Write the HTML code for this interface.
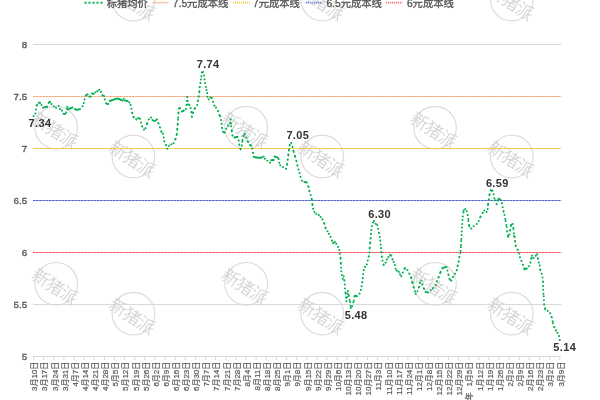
<!DOCTYPE html><html><head><meta charset="utf-8"><style>
html,body{margin:0;padding:0;background:#fff;width:600px;height:400px;overflow:hidden}
svg{display:block}
.t{font-family:"Liberation Sans","Noto Sans CJK SC",sans-serif;fill:#595959;stroke:#595959;stroke-width:0.35px}
.c{font-family:"Liberation Sans","Noto Sans CJK SC",sans-serif;fill:#595959;stroke:#595959;stroke-width:0.2px}
.w{font-family:"Noto Sans CJK SC",sans-serif;font-weight:350;fill:#d4d4d4}
.d{font-family:"Liberation Sans","Noto Sans CJK SC",sans-serif;font-weight:bold;fill:#333}
</style></head><body>
<svg width="600" height="400" viewBox="0 0 600 400">
<rect width="600" height="400" fill="#fff"/>
<g>
<circle cx="56.2" cy="127.6" r="21.3" fill="none" stroke="#dcdcdc" stroke-width="1.2"/>
<text class="w" x="0" y="0" font-size="17.5" text-anchor="middle" dominant-baseline="central" letter-spacing="-0.8" transform="translate(55.40,129.20) rotate(33)">新猪派</text>
<circle cx="56.2" cy="283.8" r="21.3" fill="none" stroke="#dcdcdc" stroke-width="1.2"/>
<text class="w" x="0" y="0" font-size="17.5" text-anchor="middle" dominant-baseline="central" letter-spacing="-0.8" transform="translate(55.40,285.40) rotate(33)">新猪派</text>
<circle cx="246.2" cy="127.6" r="21.3" fill="none" stroke="#dcdcdc" stroke-width="1.2"/>
<text class="w" x="0" y="0" font-size="17.5" text-anchor="middle" dominant-baseline="central" letter-spacing="-0.8" transform="translate(245.40,129.20) rotate(33)">新猪派</text>
<circle cx="246.2" cy="283.8" r="21.3" fill="none" stroke="#dcdcdc" stroke-width="1.2"/>
<text class="w" x="0" y="0" font-size="17.5" text-anchor="middle" dominant-baseline="central" letter-spacing="-0.8" transform="translate(245.40,285.40) rotate(33)">新猪派</text>
<circle cx="435" cy="127.6" r="21.3" fill="none" stroke="#dcdcdc" stroke-width="1.2"/>
<text class="w" x="0" y="0" font-size="17.5" text-anchor="middle" dominant-baseline="central" letter-spacing="-0.8" transform="translate(434.20,129.20) rotate(33)">新猪派</text>
<circle cx="435" cy="283.8" r="21.3" fill="none" stroke="#dcdcdc" stroke-width="1.2"/>
<text class="w" x="0" y="0" font-size="17.5" text-anchor="middle" dominant-baseline="central" letter-spacing="-0.8" transform="translate(434.20,285.40) rotate(33)">新猪派</text>
<circle cx="133.4" cy="-0.5" r="21.3" fill="none" stroke="#dcdcdc" stroke-width="1.2"/>
<text class="w" x="0" y="0" font-size="17.5" text-anchor="middle" dominant-baseline="central" letter-spacing="-0.8" transform="translate(132.60,1.10) rotate(33)">新猪派</text>
<circle cx="133.4" cy="156.5" r="21.3" fill="none" stroke="#dcdcdc" stroke-width="1.2"/>
<text class="w" x="0" y="0" font-size="17.5" text-anchor="middle" dominant-baseline="central" letter-spacing="-0.8" transform="translate(132.60,158.10) rotate(33)">新猪派</text>
<circle cx="133.4" cy="313.6" r="21.3" fill="none" stroke="#dcdcdc" stroke-width="1.2"/>
<text class="w" x="0" y="0" font-size="17.5" text-anchor="middle" dominant-baseline="central" letter-spacing="-0.8" transform="translate(132.60,315.20) rotate(33)">新猪派</text>
<circle cx="322.2" cy="-0.5" r="21.3" fill="none" stroke="#dcdcdc" stroke-width="1.2"/>
<text class="w" x="0" y="0" font-size="17.5" text-anchor="middle" dominant-baseline="central" letter-spacing="-0.8" transform="translate(321.40,1.10) rotate(33)">新猪派</text>
<circle cx="322.2" cy="156.5" r="21.3" fill="none" stroke="#dcdcdc" stroke-width="1.2"/>
<text class="w" x="0" y="0" font-size="17.5" text-anchor="middle" dominant-baseline="central" letter-spacing="-0.8" transform="translate(321.40,158.10) rotate(33)">新猪派</text>
<circle cx="322.2" cy="313.6" r="21.3" fill="none" stroke="#dcdcdc" stroke-width="1.2"/>
<text class="w" x="0" y="0" font-size="17.5" text-anchor="middle" dominant-baseline="central" letter-spacing="-0.8" transform="translate(321.40,315.20) rotate(33)">新猪派</text>
<circle cx="511.8" cy="-0.5" r="21.3" fill="none" stroke="#dcdcdc" stroke-width="1.2"/>
<text class="w" x="0" y="0" font-size="17.5" text-anchor="middle" dominant-baseline="central" letter-spacing="-0.8" transform="translate(511.00,1.10) rotate(33)">新猪派</text>
<circle cx="511.8" cy="156.5" r="21.3" fill="none" stroke="#dcdcdc" stroke-width="1.2"/>
<text class="w" x="0" y="0" font-size="17.5" text-anchor="middle" dominant-baseline="central" letter-spacing="-0.8" transform="translate(511.00,158.10) rotate(33)">新猪派</text>
<circle cx="511.8" cy="313.6" r="21.3" fill="none" stroke="#dcdcdc" stroke-width="1.2"/>
<text class="w" x="0" y="0" font-size="17.5" text-anchor="middle" dominant-baseline="central" letter-spacing="-0.8" transform="translate(511.00,315.20) rotate(33)">新猪派</text>
</g>
<line x1="33" y1="44.5" x2="561.2" y2="44.5" stroke="#d9d9d9" stroke-width="1"/>
<line x1="33" y1="96.5" x2="561.2" y2="96.5" stroke="#d9d9d9" stroke-width="1"/>
<line x1="33" y1="148.5" x2="561.2" y2="148.5" stroke="#d9d9d9" stroke-width="1"/>
<line x1="33" y1="200.5" x2="561.2" y2="200.5" stroke="#d9d9d9" stroke-width="1"/>
<line x1="33" y1="252.5" x2="561.2" y2="252.5" stroke="#d9d9d9" stroke-width="1"/>
<line x1="33" y1="304.5" x2="561.2" y2="304.5" stroke="#d9d9d9" stroke-width="1"/>
<line x1="33" y1="96.5" x2="561.2" y2="96.5" stroke="#f5d0b8" stroke-width="1"/>
<line x1="33" y1="96.5" x2="561.2" y2="96.5" stroke="#efa676" stroke-width="1" stroke-dasharray="2.1 1.1"/>
<line x1="33" y1="148.5" x2="561.2" y2="148.5" stroke="#f3d98c" stroke-width="1"/>
<line x1="33" y1="148.5" x2="561.2" y2="148.5" stroke="#f6c43c" stroke-width="1" stroke-dasharray="2.1 1.1"/>
<line x1="33" y1="200.5" x2="561.2" y2="200.5" stroke="#a3addf" stroke-width="1"/>
<line x1="33" y1="200.5" x2="561.2" y2="200.5" stroke="#4b5fd3" stroke-width="1" stroke-dasharray="2.1 1.1"/>
<line x1="33" y1="252.5" x2="561.2" y2="252.5" stroke="#f6a4a4" stroke-width="1"/>
<line x1="33" y1="252.5" x2="561.2" y2="252.5" stroke="#f64e4e" stroke-width="1" stroke-dasharray="2.1 1.1"/>
<line x1="33" y1="356.5" x2="561.2" y2="356.5" stroke="#d9d9d9" stroke-width="1"/>
<line x1="33.50" y1="356" x2="33.50" y2="360" stroke="#d9d9d9" stroke-width="1"/>
<line x1="43.62" y1="356" x2="43.62" y2="360" stroke="#d9d9d9" stroke-width="1"/>
<line x1="53.74" y1="356" x2="53.74" y2="360" stroke="#d9d9d9" stroke-width="1"/>
<line x1="63.86" y1="356" x2="63.86" y2="360" stroke="#d9d9d9" stroke-width="1"/>
<line x1="73.98" y1="356" x2="73.98" y2="360" stroke="#d9d9d9" stroke-width="1"/>
<line x1="84.10" y1="356" x2="84.10" y2="360" stroke="#d9d9d9" stroke-width="1"/>
<line x1="94.22" y1="356" x2="94.22" y2="360" stroke="#d9d9d9" stroke-width="1"/>
<line x1="104.34" y1="356" x2="104.34" y2="360" stroke="#d9d9d9" stroke-width="1"/>
<line x1="114.46" y1="356" x2="114.46" y2="360" stroke="#d9d9d9" stroke-width="1"/>
<line x1="124.58" y1="356" x2="124.58" y2="360" stroke="#d9d9d9" stroke-width="1"/>
<line x1="134.70" y1="356" x2="134.70" y2="360" stroke="#d9d9d9" stroke-width="1"/>
<line x1="144.82" y1="356" x2="144.82" y2="360" stroke="#d9d9d9" stroke-width="1"/>
<line x1="154.94" y1="356" x2="154.94" y2="360" stroke="#d9d9d9" stroke-width="1"/>
<line x1="165.06" y1="356" x2="165.06" y2="360" stroke="#d9d9d9" stroke-width="1"/>
<line x1="175.18" y1="356" x2="175.18" y2="360" stroke="#d9d9d9" stroke-width="1"/>
<line x1="185.30" y1="356" x2="185.30" y2="360" stroke="#d9d9d9" stroke-width="1"/>
<line x1="195.42" y1="356" x2="195.42" y2="360" stroke="#d9d9d9" stroke-width="1"/>
<line x1="205.54" y1="356" x2="205.54" y2="360" stroke="#d9d9d9" stroke-width="1"/>
<line x1="215.66" y1="356" x2="215.66" y2="360" stroke="#d9d9d9" stroke-width="1"/>
<line x1="225.78" y1="356" x2="225.78" y2="360" stroke="#d9d9d9" stroke-width="1"/>
<line x1="235.90" y1="356" x2="235.90" y2="360" stroke="#d9d9d9" stroke-width="1"/>
<line x1="246.02" y1="356" x2="246.02" y2="360" stroke="#d9d9d9" stroke-width="1"/>
<line x1="256.14" y1="356" x2="256.14" y2="360" stroke="#d9d9d9" stroke-width="1"/>
<line x1="266.26" y1="356" x2="266.26" y2="360" stroke="#d9d9d9" stroke-width="1"/>
<line x1="276.38" y1="356" x2="276.38" y2="360" stroke="#d9d9d9" stroke-width="1"/>
<line x1="286.50" y1="356" x2="286.50" y2="360" stroke="#d9d9d9" stroke-width="1"/>
<line x1="296.62" y1="356" x2="296.62" y2="360" stroke="#d9d9d9" stroke-width="1"/>
<line x1="306.74" y1="356" x2="306.74" y2="360" stroke="#d9d9d9" stroke-width="1"/>
<line x1="316.86" y1="356" x2="316.86" y2="360" stroke="#d9d9d9" stroke-width="1"/>
<line x1="326.98" y1="356" x2="326.98" y2="360" stroke="#d9d9d9" stroke-width="1"/>
<line x1="337.10" y1="356" x2="337.10" y2="360" stroke="#d9d9d9" stroke-width="1"/>
<line x1="347.22" y1="356" x2="347.22" y2="360" stroke="#d9d9d9" stroke-width="1"/>
<line x1="357.34" y1="356" x2="357.34" y2="360" stroke="#d9d9d9" stroke-width="1"/>
<line x1="367.46" y1="356" x2="367.46" y2="360" stroke="#d9d9d9" stroke-width="1"/>
<line x1="377.58" y1="356" x2="377.58" y2="360" stroke="#d9d9d9" stroke-width="1"/>
<line x1="387.70" y1="356" x2="387.70" y2="360" stroke="#d9d9d9" stroke-width="1"/>
<line x1="397.82" y1="356" x2="397.82" y2="360" stroke="#d9d9d9" stroke-width="1"/>
<line x1="407.94" y1="356" x2="407.94" y2="360" stroke="#d9d9d9" stroke-width="1"/>
<line x1="418.06" y1="356" x2="418.06" y2="360" stroke="#d9d9d9" stroke-width="1"/>
<line x1="428.18" y1="356" x2="428.18" y2="360" stroke="#d9d9d9" stroke-width="1"/>
<line x1="438.30" y1="356" x2="438.30" y2="360" stroke="#d9d9d9" stroke-width="1"/>
<line x1="448.42" y1="356" x2="448.42" y2="360" stroke="#d9d9d9" stroke-width="1"/>
<line x1="458.54" y1="356" x2="458.54" y2="360" stroke="#d9d9d9" stroke-width="1"/>
<line x1="468.66" y1="356" x2="468.66" y2="360" stroke="#d9d9d9" stroke-width="1"/>
<line x1="478.78" y1="356" x2="478.78" y2="360" stroke="#d9d9d9" stroke-width="1"/>
<line x1="488.90" y1="356" x2="488.90" y2="360" stroke="#d9d9d9" stroke-width="1"/>
<line x1="499.02" y1="356" x2="499.02" y2="360" stroke="#d9d9d9" stroke-width="1"/>
<line x1="509.14" y1="356" x2="509.14" y2="360" stroke="#d9d9d9" stroke-width="1"/>
<line x1="519.26" y1="356" x2="519.26" y2="360" stroke="#d9d9d9" stroke-width="1"/>
<line x1="529.38" y1="356" x2="529.38" y2="360" stroke="#d9d9d9" stroke-width="1"/>
<line x1="539.50" y1="356" x2="539.50" y2="360" stroke="#d9d9d9" stroke-width="1"/>
<line x1="549.62" y1="356" x2="549.62" y2="360" stroke="#d9d9d9" stroke-width="1"/>
<line x1="559.74" y1="356" x2="559.74" y2="360" stroke="#d9d9d9" stroke-width="1"/>
<text class="t" x="27.1" y="48.2" font-size="9.8" text-anchor="end">8</text>
<text class="t" x="27.1" y="100.2" font-size="9.8" text-anchor="end">7.5</text>
<text class="t" x="27.1" y="152.2" font-size="9.8" text-anchor="end">7</text>
<text class="t" x="27.1" y="204.2" font-size="9.8" text-anchor="end">6.5</text>
<text class="t" x="27.1" y="256.2" font-size="9.8" text-anchor="end">6</text>
<text class="t" x="27.1" y="308.2" font-size="9.8" text-anchor="end">5.5</text>
<text class="t" x="27.1" y="360.2" font-size="9.8" text-anchor="end">5</text>
<text class="c" font-size="8" text-anchor="end" dominant-baseline="central" transform="translate(34.80,361.7) rotate(-90)">3月10日</text>
<text class="c" font-size="8" text-anchor="end" dominant-baseline="central" transform="translate(44.92,361.7) rotate(-90)">3月17日</text>
<text class="c" font-size="8" text-anchor="end" dominant-baseline="central" transform="translate(55.04,361.7) rotate(-90)">3月24日</text>
<text class="c" font-size="8" text-anchor="end" dominant-baseline="central" transform="translate(65.16,361.7) rotate(-90)">3月31日</text>
<text class="c" font-size="8" text-anchor="end" dominant-baseline="central" transform="translate(75.28,361.7) rotate(-90)">4月7日</text>
<text class="c" font-size="8" text-anchor="end" dominant-baseline="central" transform="translate(85.40,361.7) rotate(-90)">4月14日</text>
<text class="c" font-size="8" text-anchor="end" dominant-baseline="central" transform="translate(95.52,361.7) rotate(-90)">4月21日</text>
<text class="c" font-size="8" text-anchor="end" dominant-baseline="central" transform="translate(105.64,361.7) rotate(-90)">4月28日</text>
<text class="c" font-size="8" text-anchor="end" dominant-baseline="central" transform="translate(115.76,361.7) rotate(-90)">5月5日</text>
<text class="c" font-size="8" text-anchor="end" dominant-baseline="central" transform="translate(125.88,361.7) rotate(-90)">5月12日</text>
<text class="c" font-size="8" text-anchor="end" dominant-baseline="central" transform="translate(136.00,361.7) rotate(-90)">5月19日</text>
<text class="c" font-size="8" text-anchor="end" dominant-baseline="central" transform="translate(146.12,361.7) rotate(-90)">5月26日</text>
<text class="c" font-size="8" text-anchor="end" dominant-baseline="central" transform="translate(156.24,361.7) rotate(-90)">6月2日</text>
<text class="c" font-size="8" text-anchor="end" dominant-baseline="central" transform="translate(166.36,361.7) rotate(-90)">6月9日</text>
<text class="c" font-size="8" text-anchor="end" dominant-baseline="central" transform="translate(176.48,361.7) rotate(-90)">6月16日</text>
<text class="c" font-size="8" text-anchor="end" dominant-baseline="central" transform="translate(186.60,361.7) rotate(-90)">6月23日</text>
<text class="c" font-size="8" text-anchor="end" dominant-baseline="central" transform="translate(196.72,361.7) rotate(-90)">6月30日</text>
<text class="c" font-size="8" text-anchor="end" dominant-baseline="central" transform="translate(206.84,361.7) rotate(-90)">7月7日</text>
<text class="c" font-size="8" text-anchor="end" dominant-baseline="central" transform="translate(216.96,361.7) rotate(-90)">7月14日</text>
<text class="c" font-size="8" text-anchor="end" dominant-baseline="central" transform="translate(227.08,361.7) rotate(-90)">7月21日</text>
<text class="c" font-size="8" text-anchor="end" dominant-baseline="central" transform="translate(237.20,361.7) rotate(-90)">7月28日</text>
<text class="c" font-size="8" text-anchor="end" dominant-baseline="central" transform="translate(247.32,361.7) rotate(-90)">8月4日</text>
<text class="c" font-size="8" text-anchor="end" dominant-baseline="central" transform="translate(257.44,361.7) rotate(-90)">8月11日</text>
<text class="c" font-size="8" text-anchor="end" dominant-baseline="central" transform="translate(267.56,361.7) rotate(-90)">8月18日</text>
<text class="c" font-size="8" text-anchor="end" dominant-baseline="central" transform="translate(277.68,361.7) rotate(-90)">8月25日</text>
<text class="c" font-size="8" text-anchor="end" dominant-baseline="central" transform="translate(287.80,361.7) rotate(-90)">9月1日</text>
<text class="c" font-size="8" text-anchor="end" dominant-baseline="central" transform="translate(297.92,361.7) rotate(-90)">9月8日</text>
<text class="c" font-size="8" text-anchor="end" dominant-baseline="central" transform="translate(308.04,361.7) rotate(-90)">9月15日</text>
<text class="c" font-size="8" text-anchor="end" dominant-baseline="central" transform="translate(318.16,361.7) rotate(-90)">9月22日</text>
<text class="c" font-size="8" text-anchor="end" dominant-baseline="central" transform="translate(328.28,361.7) rotate(-90)">9月29日</text>
<text class="c" font-size="8" text-anchor="end" dominant-baseline="central" transform="translate(338.40,361.7) rotate(-90)">10月6日</text>
<text class="c" font-size="8" text-anchor="end" dominant-baseline="central" transform="translate(348.52,361.7) rotate(-90)">10月13日</text>
<text class="c" font-size="8" text-anchor="end" dominant-baseline="central" transform="translate(358.64,361.7) rotate(-90)">10月20日</text>
<text class="c" font-size="8" text-anchor="end" dominant-baseline="central" transform="translate(368.76,361.7) rotate(-90)">10月27日</text>
<text class="c" font-size="8" text-anchor="end" dominant-baseline="central" transform="translate(378.88,361.7) rotate(-90)">11月3日</text>
<text class="c" font-size="8" text-anchor="end" dominant-baseline="central" transform="translate(389.00,361.7) rotate(-90)">11月10日</text>
<text class="c" font-size="8" text-anchor="end" dominant-baseline="central" transform="translate(399.12,361.7) rotate(-90)">11月17日</text>
<text class="c" font-size="8" text-anchor="end" dominant-baseline="central" transform="translate(409.24,361.7) rotate(-90)">11月24日</text>
<text class="c" font-size="8" text-anchor="end" dominant-baseline="central" transform="translate(419.36,361.7) rotate(-90)">12月1日</text>
<text class="c" font-size="8" text-anchor="end" dominant-baseline="central" transform="translate(429.48,361.7) rotate(-90)">12月8日</text>
<text class="c" font-size="8" text-anchor="end" dominant-baseline="central" transform="translate(439.60,361.7) rotate(-90)">12月15日</text>
<text class="c" font-size="8" text-anchor="end" dominant-baseline="central" transform="translate(449.72,361.7) rotate(-90)">12月22日</text>
<text class="c" font-size="8" text-anchor="end" dominant-baseline="central" transform="translate(459.84,361.7) rotate(-90)">12月29日</text>
<text class="c" font-size="8" text-anchor="end" dominant-baseline="central" transform="translate(469.96,361.7) rotate(-90)">2023年  1月5日</text>
<text class="c" font-size="8" text-anchor="end" dominant-baseline="central" transform="translate(480.08,361.7) rotate(-90)">1月12日</text>
<text class="c" font-size="8" text-anchor="end" dominant-baseline="central" transform="translate(490.20,361.7) rotate(-90)">1月19日</text>
<text class="c" font-size="8" text-anchor="end" dominant-baseline="central" transform="translate(500.32,361.7) rotate(-90)">1月26日</text>
<text class="c" font-size="8" text-anchor="end" dominant-baseline="central" transform="translate(510.44,361.7) rotate(-90)">2月2日</text>
<text class="c" font-size="8" text-anchor="end" dominant-baseline="central" transform="translate(520.56,361.7) rotate(-90)">2月9日</text>
<text class="c" font-size="8" text-anchor="end" dominant-baseline="central" transform="translate(530.68,361.7) rotate(-90)">2月16日</text>
<text class="c" font-size="8" text-anchor="end" dominant-baseline="central" transform="translate(540.80,361.7) rotate(-90)">2月23日</text>
<text class="c" font-size="8" text-anchor="end" dominant-baseline="central" transform="translate(550.92,361.7) rotate(-90)">3月2日</text>
<text class="c" font-size="8" text-anchor="end" dominant-baseline="central" transform="translate(561.04,361.7) rotate(-90)">3月9日</text>
<line x1="84.5" y1="2.7" x2="102.7" y2="2.7" stroke="#00b050" stroke-width="2" stroke-dasharray="2 2"/>
<text class="t" x="106.7" y="7.3" font-size="10.3">标猪均价</text>
<line x1="152.7" y1="2.7" x2="169" y2="2.7" stroke="#f2a36e" stroke-width="1.8" stroke-dasharray="1 1"/>
<text class="t" x="172.8" y="7.3" font-size="10.3">7.5元成本线</text>
<line x1="233" y1="2.7" x2="250" y2="2.7" stroke="#fbc93a" stroke-width="1.8" stroke-dasharray="1 1"/>
<text class="t" x="253.0" y="7.3" font-size="10.3">7元成本线</text>
<line x1="305.7" y1="2.7" x2="322" y2="2.7" stroke="#4d62d4" stroke-width="1.8" stroke-dasharray="1 1"/>
<text class="t" x="326.4" y="7.3" font-size="10.3">6.5元成本线</text>
<line x1="386.2" y1="2.7" x2="402.5" y2="2.7" stroke="#f75454" stroke-width="1.8" stroke-dasharray="1 1"/>
<text class="t" x="406.9" y="7.3" font-size="10.3">6元成本线</text>
<path d="M33.50,116.00L35.30,113.50M35.30,113.50L36.00,109.60M36.00,109.60L36.90,105.00M36.90,105.00L38.75,102.75M38.75,102.75L40.00,102.90M40.00,102.90L41.50,105.00M41.50,105.00L43.10,107.75M43.10,107.75L44.35,107.33M44.35,107.33L45.60,106.90M45.60,106.90L46.42,106.75M46.42,106.75L47.25,106.60M47.25,106.60L48.75,102.75M48.75,102.75L50.00,101.90M50.00,101.90L51.50,104.00M51.50,104.00L53.75,106.25M53.75,106.25L56.00,107.75M56.00,107.75L58.75,105.90M58.75,105.90L60.00,109.00M60.00,109.00L61.90,110.60M61.90,110.60L63.50,113.75M63.50,113.75L65.00,114.00M65.00,114.00L66.25,112.50M66.25,112.50L66.90,108.75M66.90,108.75L67.25,106.90M67.25,106.90L68.10,109.40M68.10,109.40L69.05,108.95M69.05,108.95L70.00,108.50M70.00,108.50L71.25,108.00M71.25,108.00L72.50,107.50M72.50,107.50L75.00,109.10M75.00,109.10L76.12,109.55M76.12,109.55L77.25,110.00M77.25,110.00L78.62,109.50M78.62,109.50L80.00,109.00M80.00,109.00L82.50,106.25M82.50,106.25L83.75,103.10M83.75,103.10L84.60,99.40M84.60,99.40L86.25,95.00M86.25,95.00L87.50,94.40M87.50,94.40L89.40,96.50M89.40,96.50L90.60,96.60M90.60,96.60L91.90,93.50M91.90,93.50L92.83,93.62M92.83,93.62L93.75,93.75M93.75,93.75L95.60,92.25M95.60,92.25L97.50,91.00M97.50,91.00L99.40,89.75M99.40,89.75L101.00,91.90M101.00,91.90L102.50,95.00M102.50,95.00L104.00,96.00M104.00,96.00L104.75,99.40M104.75,99.40L106.25,103.50M106.25,103.50L107.17,103.75M107.17,103.75L108.10,104.00M108.10,104.00L109.75,101.00M109.75,101.00L110.83,100.62M110.83,100.62L111.90,100.25M111.90,100.25L113.15,99.83M113.15,99.83L114.40,99.40M114.40,99.40L115.65,98.95M115.65,98.95L116.90,98.50M116.90,98.50L117.95,98.75M117.95,98.75L119.00,99.00M119.00,99.00L120.12,99.50M120.12,99.50L121.25,100.00M121.25,100.00L122.50,100.60M122.50,100.60L123.75,98.75M123.75,98.75L125.00,100.60M125.00,100.60L126.25,100.80M126.25,100.80L127.50,101.00M127.50,101.00L129.40,102.50M129.40,102.50L130.60,105.00M130.60,105.00L131.50,108.75M131.50,108.75L132.25,113.10M132.25,113.10L133.75,117.50M133.75,117.50L136.25,119.40M136.25,119.40L138.10,118.10M138.10,118.10L139.05,118.42M139.05,118.42L140.00,118.75M140.00,118.75L141.00,122.50M141.00,122.50L142.25,126.50M142.25,126.50L144.00,129.60M144.00,129.60L145.60,128.10M145.60,128.10L147.25,123.10M147.25,123.10L148.75,119.40M148.75,119.40L151.00,117.50M151.00,117.50L152.50,120.00M152.50,120.00L154.00,121.00M154.00,121.00L155.60,120.60M155.60,120.60L156.90,119.40M156.90,119.40L158.50,123.50M158.50,123.50L160.00,127.50M160.00,127.50L161.50,131.90M161.50,131.90L163.10,133.75M163.10,133.75L163.75,137.50M163.75,137.50L164.40,141.25M164.40,141.25L166.00,145.25M166.00,145.25L167.25,148.75M167.25,148.75L169.00,146.00M169.00,146.00L171.25,144.40M171.25,144.40L173.50,143.10M173.50,143.10L175.60,138.75M175.60,138.75L176.90,133.75M176.90,133.75L177.25,128.75M177.25,128.75L177.75,123.75M177.75,123.75L178.10,117.50M178.10,117.50L178.50,112.50M178.50,112.50L179.00,108.50M179.00,108.50L180.00,108.10M180.00,108.10L181.90,111.50M181.90,111.50L182.82,111.05M182.82,111.05L183.75,110.60M183.75,110.60L186.00,109.00M186.00,109.00L187.25,96.90M187.25,96.90L188.10,104.40M188.10,104.40L189.40,105.00M189.40,105.00L190.60,108.10M190.60,108.10L191.50,112.50M191.50,112.50L191.90,116.90M191.90,116.90L193.10,112.50M193.10,112.50L195.00,108.10M195.00,108.10L197.25,105.00M197.25,105.00L198.10,100.60M198.10,100.60L198.75,96.25M198.75,96.25L199.40,91.25M199.40,91.25L199.75,86.90M199.75,86.90L200.40,83.10M200.40,83.10L200.90,79.40M200.90,79.40L201.25,76.25M201.25,76.25L201.90,72.50M201.90,72.50L203.10,71.90M203.10,71.90L204.00,75.60M204.00,75.60L204.50,79.40M204.50,79.40L205.00,83.10M205.00,83.10L206.00,86.90M206.00,86.90L206.50,90.00M206.50,90.00L207.25,93.10M207.25,93.10L207.50,96.90M207.50,96.90L208.75,99.40M208.75,99.40L210.60,97.50M210.60,97.50L211.90,98.10M211.90,98.10L213.10,101.90M213.10,101.90L214.40,105.60M214.40,105.60L216.00,107.50M216.00,107.50L218.10,111.25M218.10,111.25L220.00,116.25M220.00,116.25L221.00,120.00M221.00,120.00L221.50,123.75M221.50,123.75L222.10,128.10M222.10,128.10L223.10,131.90M223.10,131.90L223.93,132.20M223.93,132.20L224.75,132.50M224.75,132.50L226.25,128.75M226.25,128.75L228.10,125.60M228.10,125.60L230.00,123.10M230.00,123.10L230.60,119.40M230.60,119.40L231.25,126.25M231.25,126.25L231.90,131.25M231.90,131.25L232.50,135.60M232.50,135.60L234.40,137.50M234.40,137.50L235.43,137.30M235.43,137.30L236.47,137.10M236.47,137.10L237.50,136.90M237.50,136.90L238.75,140.60M238.75,140.60L239.40,145.00M239.40,145.00L240.60,149.40M240.60,149.40L241.90,145.60M241.90,145.60L242.50,140.00M242.50,140.00L243.75,135.60M243.75,135.60L245.00,133.75M245.00,133.75L246.25,137.50M246.25,137.50L248.10,141.90M248.10,141.90L250.00,145.00M250.00,145.00L251.25,145.60M251.25,145.60L252.25,148.75M252.25,148.75L253.10,153.10M253.10,153.10L253.70,156.70M253.70,156.70L254.85,157.10M254.85,157.10L256.00,157.50M256.00,157.50L257.00,157.57M257.00,157.57L258.00,157.63M258.00,157.63L259.00,157.70M259.00,157.70L260.00,157.63M260.00,157.63L261.00,157.57M261.00,157.57L262.00,157.50M262.00,157.50L263.70,156.50M263.70,156.50L265.00,158.70M265.00,158.70L267.50,160.70M267.50,160.70L270.00,162.70M270.00,162.70L271.30,160.20M271.30,160.20L272.50,160.10M272.50,160.10L273.70,160.00M273.70,160.00L274.50,156.50M274.50,156.50L276.00,157.00M276.00,157.00L277.50,157.50M277.50,157.50L278.70,159.00M278.70,159.00L279.30,162.70M279.30,162.70L280.30,165.30M280.30,165.30L283.00,167.00M283.00,167.00L286.00,168.70M286.00,168.70L287.25,163.75M287.25,163.75L287.75,159.40M287.75,159.40L288.40,154.40M288.40,154.40L289.00,149.40M289.00,149.40L289.75,145.00M289.75,145.00L291.25,143.10M291.25,143.10L292.50,146.90M292.50,146.90L293.75,151.90M293.75,151.90L295.25,156.90M295.25,156.90L296.50,161.25M296.50,161.25L297.50,165.60M297.50,165.60L298.50,169.40M298.50,169.40L299.60,173.10M299.60,173.10L300.40,176.90M300.40,176.90L301.90,180.60M301.90,180.60L304.40,181.90M304.40,181.90L305.65,182.20M305.65,182.20L306.90,182.50M306.90,182.50L308.50,186.90M308.50,186.90L309.40,191.25M309.40,191.25L310.60,195.00M310.60,195.00L311.90,200.00M311.90,200.00L312.50,205.00M312.50,205.00L313.10,208.75M313.10,208.75L314.40,211.90M314.40,211.90L316.25,213.75M316.25,213.75L318.75,215.00M318.75,215.00L320.60,216.90M320.60,216.90L322.50,219.40M322.50,219.40L324.40,223.75M324.40,223.75L325.60,228.10M325.60,228.10L327.50,231.25M327.50,231.25L329.00,233.75M329.00,233.75L330.60,236.90M330.60,236.90L331.90,240.60M331.90,240.60L333.10,243.10M333.10,243.10L334.75,241.90M334.75,241.90L336.25,243.75M336.25,243.75L338.10,246.90M338.10,246.90L339.40,250.00M339.40,250.00L340.00,253.75M340.00,253.75L340.60,258.75M340.60,258.75L340.90,263.75M340.90,263.75L341.25,271.25M341.25,271.25L341.90,275.00M341.90,275.00L342.75,278.75M342.75,278.75L343.75,276.25M343.75,276.25L344.40,280.60M344.40,280.60L344.75,284.40M344.75,284.40L345.10,288.50M345.10,288.50L345.60,293.60M345.60,293.60L346.40,301.30M346.40,301.30L348.00,291.00M348.00,291.00L348.80,296.00M348.80,296.00L350.10,302.00M350.10,302.00L350.80,308.00M350.80,308.00L352.20,306.20M352.20,306.20L353.80,300.50M353.80,300.50L354.80,295.70M354.80,295.70L355.85,296.00M355.85,296.00L356.90,296.30M356.90,296.30L359.50,293.60M359.50,293.60L360.90,290.00M360.90,290.00L361.60,286.30M361.60,286.30L362.20,282.10M362.20,282.10L362.75,278.10M362.75,278.10L363.20,274.20M363.20,274.20L363.75,270.00M363.75,270.00L365.00,266.90M365.00,266.90L366.90,264.40M366.90,264.40L367.75,260.60M367.75,260.60L368.75,256.25M368.75,256.25L369.40,252.50M369.40,252.50L369.75,247.50M369.75,247.50L370.25,242.50M370.25,242.50L370.60,238.10M370.60,238.10L371.00,233.75M371.00,233.75L371.25,230.00M371.25,230.00L371.90,226.25M371.90,226.25L373.10,222.50M373.10,222.50L374.00,221.00M374.00,221.00L375.60,223.75M375.60,223.75L377.25,225.00M377.25,225.00L378.10,228.75M378.10,228.75L379.00,233.10M379.00,233.10L379.75,236.90M379.75,236.90L380.25,240.60M380.25,240.60L380.60,244.40M380.60,244.40L381.00,248.10M381.00,248.10L381.50,252.50M381.50,252.50L381.90,256.90M381.90,256.90L382.50,260.60M382.50,260.60L383.75,265.00M383.75,265.00L385.60,262.50M385.60,262.50L386.90,259.40M386.90,259.40L388.50,256.90M388.50,256.90L390.00,254.75M390.00,254.75L391.25,255.60M391.25,255.60L392.50,259.40M392.50,259.40L393.75,261.90M393.75,261.90L395.00,265.00M395.00,265.00L395.60,268.75M395.60,268.75L396.90,270.60M396.90,270.60L398.75,271.90M398.75,271.90L400.00,274.40M400.00,274.40L401.25,276.25M401.25,276.25L402.75,272.50M402.75,272.50L405.00,268.10M405.00,268.10L407.50,270.00M407.50,270.00L409.40,273.75M409.40,273.75L411.25,278.10M411.25,278.10L412.50,283.10M412.50,283.10L413.75,287.50M413.75,287.50L415.60,293.75M415.60,293.75L417.50,291.25M417.50,291.25L419.00,286.90M419.00,286.90L420.00,282.50M420.00,282.50L421.50,280.60M421.50,280.60L422.50,284.40M422.50,284.40L424.00,288.75M424.00,288.75L425.60,291.90M425.60,291.90L426.85,292.20M426.85,292.20L428.10,292.50M428.10,292.50L430.60,290.00M430.60,290.00L433.10,288.10M433.10,288.10L435.60,285.00M435.60,285.00L436.90,281.25M436.90,281.25L438.75,276.90M438.75,276.90L440.60,271.90M440.60,271.90L442.50,268.10M442.50,268.10L443.75,267.68M443.75,267.68L445.00,267.25M445.00,267.25L446.50,266.90M446.50,266.90L447.50,270.60M447.50,270.60L448.50,275.00M448.50,275.00L449.75,279.40M449.75,279.40L451.25,280.60M451.25,280.60L453.10,276.90M453.10,276.90L455.00,273.75M455.00,273.75L456.90,270.00M456.90,270.00L457.75,265.60M457.75,265.60L458.75,261.25M458.75,261.25L459.40,256.90M459.40,256.90L460.70,251.00M460.70,251.00L461.00,245.00M461.00,245.00L461.30,239.00M461.30,239.00L461.75,231.50M461.75,231.50L462.20,224.00M462.20,224.00L462.80,216.50M462.80,216.50L463.70,210.50M463.70,210.50L465.20,209.00M465.20,209.00L466.70,211.25M466.70,211.25L467.75,215.00M467.75,215.00L468.50,221.00M468.50,221.00L469.25,226.25M469.25,226.25L471.20,228.50M471.20,228.50L473.75,226.25M473.75,226.25L476.75,224.00M476.75,224.00L478.70,221.00M478.70,221.00L480.50,216.50M480.50,216.50L482.75,212.75M482.75,212.75L484.25,210.50M484.25,210.50L486.50,212.00M486.50,212.00L487.70,208.90M487.70,208.90L488.10,203.80M488.10,203.80L488.80,199.30M488.80,199.30L489.60,194.20M489.60,194.20L490.70,190.30M490.70,190.30L491.55,190.55M491.55,190.55L492.40,190.80M492.40,190.80L493.70,194.20M493.70,194.20L494.40,198.20M494.40,198.20L495.20,200.40M495.20,200.40L496.70,204.30M496.70,204.30L497.50,200.40M497.50,200.40L498.60,198.70M498.60,198.70L499.45,199.10M499.45,199.10L500.30,199.50M500.30,199.50L502.00,203.20M502.00,203.20L502.70,207.20M502.70,207.20L503.60,211.70M503.60,211.70L504.50,215.00M504.50,215.00L505.70,221.00M505.70,221.00L506.70,227.00M506.70,227.00L507.20,231.50M507.20,231.50L508.20,236.75M508.20,236.75L509.30,234.50M509.30,234.50L510.20,230.00M510.20,230.00L511.20,224.75M511.20,224.75L512.70,224.00M512.70,224.00L513.50,229.25M513.50,229.25L514.20,236.00M514.20,236.00L514.75,237.00M514.75,237.00L515.20,241.50M515.20,241.50L515.80,246.00M515.80,246.00L517.75,249.75M517.75,249.75L519.25,253.50M519.25,253.50L520.00,257.25M520.00,257.25L521.50,261.00M521.50,261.00L523.00,264.75M523.00,264.75L524.50,269.25M524.50,269.25L525.62,268.88M525.62,268.88L526.75,268.50M526.75,268.50L529.00,266.25M529.00,266.25L530.50,262.50M530.50,262.50L531.25,258.00M531.25,258.00L532.00,255.75M532.00,255.75L533.50,258.00M533.50,258.00L535.75,255.75M535.75,255.75L537.25,254.25M537.25,254.25L538.00,258.75M538.00,258.75L538.75,262.50M538.75,262.50L539.75,265.50M539.75,265.50L540.25,270.00M540.25,270.00L541.75,273.75M541.75,273.75L542.50,277.50M542.50,277.50L543.00,282.00M543.00,282.00L543.20,289.80M543.20,289.80L543.70,296.30M543.70,296.30L544.20,304.40M544.20,304.40L545.30,309.30M545.30,309.30L547.80,310.90M547.80,310.90L550.20,313.30M550.20,313.30L551.80,317.40M551.80,317.40L553.00,323.10M553.00,323.10L554.30,327.20M554.30,327.20L555.90,330.40M555.90,330.40L557.50,332.80M557.50,332.80L559.10,336.10M559.10,336.10L560.00,341.00" fill="none" stroke="#00b050" stroke-width="2" stroke-dasharray="0.01 3.99" stroke-linecap="round"/>
<text class="d" x="28.6" y="126.7" font-size="11" letter-spacing="0.35">7.34</text>
<text class="d" x="196.7" y="67.9" font-size="11" letter-spacing="0.35">7.74</text>
<text class="d" x="286.4" y="138.9" font-size="11" letter-spacing="0.35">7.05</text>
<text class="d" x="368.2" y="218.1" font-size="11" letter-spacing="0.35">6.30</text>
<text class="d" x="344.7" y="318.9" font-size="11" letter-spacing="0.35">5.48</text>
<text class="d" x="485.9" y="186.9" font-size="11" letter-spacing="0.35">6.59</text>
<text class="d" x="553.3" y="350.9" font-size="11" letter-spacing="0.35">5.14</text>
</svg></body></html>
